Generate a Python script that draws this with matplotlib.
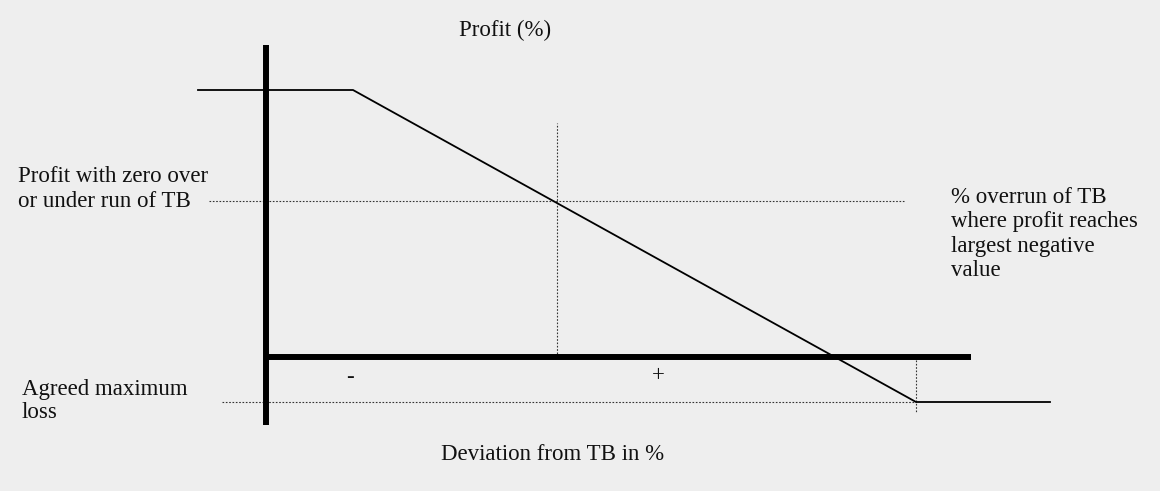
import matplotlib
matplotlib.use("Agg")
import matplotlib.pyplot as plt

# Schematic data (deviation from TB in schematic units, profit in schematic units)
profit_x = [-6.8, 8.7, 65.0, 78.4]
profit_y = [26.7, 26.7, -4.5, -4.5]

axis_v_y = [-6.8, 31.2]      # extent of vertical (profit) axis
axis_h_x = [0.0, 70.5]       # extent of horizontal (deviation) axis

zero_dev_x = 29.1            # zero deviation from TB
zero_dev_profit = 15.6       # profit with zero over/under run
max_loss = -4.5              # agreed maximum loss
max_loss_dev = 65.0          # % overrun where profit reaches max loss

ref_h1_x = [-5.7, 63.8]      # dotted guide at zero-deviation profit
ref_v1_y = [0.0, 23.4]       # dotted guide at zero deviation
ref_h2_x = [-4.4, 65.0]      # dotted guide at max loss
ref_v2_y = [-0.3, -5.6]      # dotted guide at max-loss deviation

bg = "#eeeeee"
fig = plt.figure(figsize=(11.6, 4.91), dpi=100, facecolor=bg)
ax = fig.add_axes([0, 0, 1, 1])
ax.set_facecolor(bg)
ax.set_xlim(-26.6, 89.4)
ax.set_ylim(-13.4, 35.7)
ax.axis("off")

dot = dict(color="#333333", lw=0.8, linestyle=(0, (1.5, 1.5)))
ax.plot(ref_h1_x, [zero_dev_profit] * 2, **dot)
ax.plot([zero_dev_x] * 2, ref_v1_y, **dot)
ax.plot(ref_h2_x, [max_loss] * 2, **dot)
ax.plot([max_loss_dev] * 2, ref_v2_y, **dot)

ax.plot([0, 0], axis_v_y, color="black", lw=4.3, solid_capstyle="butt")
ax.plot(axis_h_x, [0, 0], color="black", lw=4.3, solid_capstyle="butt")
ax.plot(profit_x, profit_y, color="black", lw=1.3)

font = dict(family=["Liberation Serif", "DejaVu Serif"], fontsize=16.5, color="#111111")
ax.text(23.9, 32.7, "Profit (%)", ha="center", va="center", **font)
ax.text(-24.8, 16.8, "Profit with zero over\nor under run of TB", ha="left", va="center",
        linespacing=1.2, **font)
ax.text(68.5, 12.3, "% overrun of TB\nwhere profit reaches\nlargest negative\nvalue",
        ha="left", va="center", linespacing=1.2, **font)
ax.text(-24.4, -4.4, "Agreed maximum\nloss", ha="left", va="center", linespacing=1.1, **font)
ax.text(8.4, -2.0, "-", ha="center", va="center", **font)
ax.text(39.2, -1.9, "+", ha="center", va="center", **font)
ax.text(28.7, -9.7, "Deviation from TB in %", ha="center", va="center", **font)

fig.savefig("out.png", dpi=100, facecolor=bg)
